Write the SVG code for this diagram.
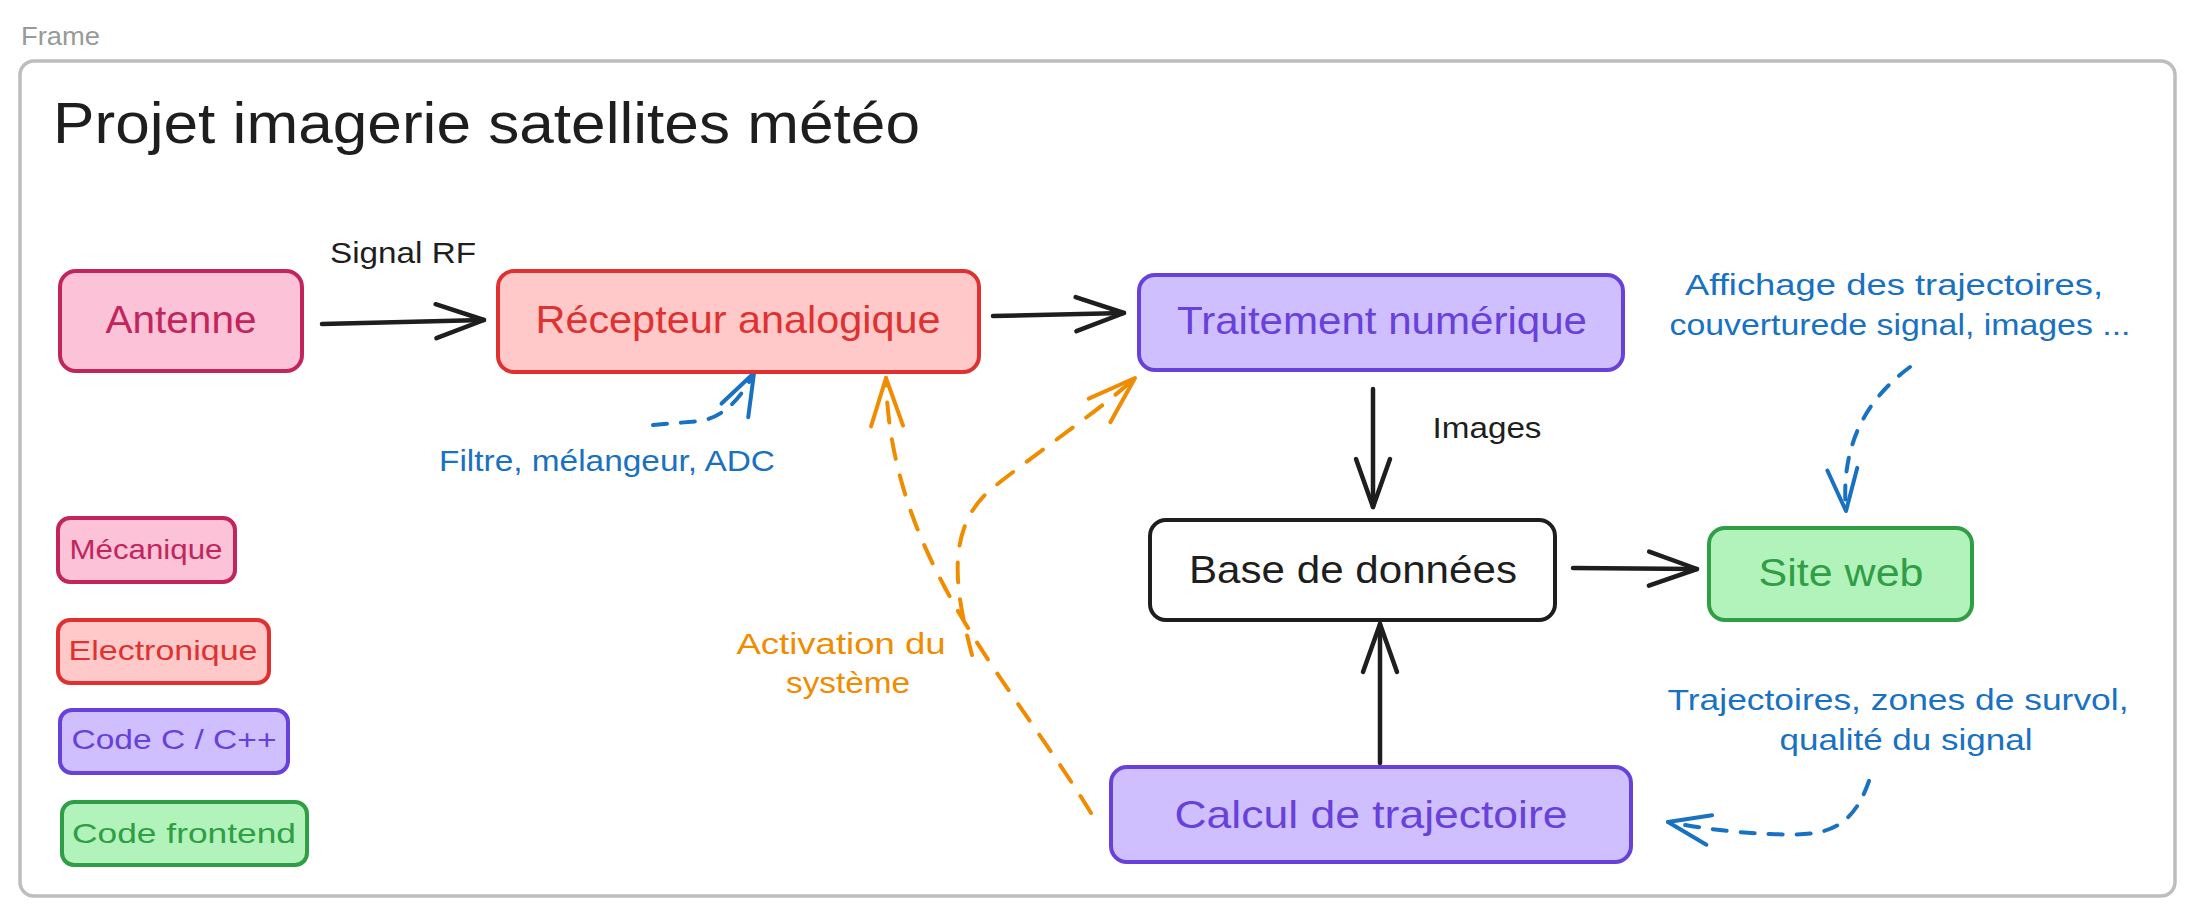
<svg xmlns="http://www.w3.org/2000/svg" width="2192" height="916" viewBox="0 0 2192 916">
<style>
text{font-family:"Liberation Sans","DejaVu Sans",sans-serif}
.node rect{stroke-width:4;rx:16;ry:16}
.leg rect{stroke-width:4;rx:12;ry:12}
.nt{font-size:39px;text-anchor:middle}
.lt{font-size:28px;text-anchor:middle}
.lab{font-size:29px;text-anchor:middle}
.pink rect{fill:#fcc2d7;stroke:#c2255c}.pink text{fill:#c2255c}
.red rect{fill:#ffc9c9;stroke:#e03131}.red text{fill:#e03131}
.violet rect{fill:#d0bfff;stroke:#6741d9}.violet text{fill:#6741d9}
.green rect{fill:#b2f2bb;stroke:#2f9e44}.green text{fill:#2f9e44}
.white rect{fill:#ffffff;stroke:#1e1e1e}.white text{fill:#1e1e1e}
.c{fill:none;stroke-linecap:round;stroke-linejoin:round}
.k{stroke:#1e1e1e;stroke-width:4.5}
.b{stroke:#1971c2;stroke-width:4;stroke-dasharray:14 14}
.o{stroke:#f08c00;stroke-width:4;stroke-dasharray:20 17}
</style>
<defs>
<marker id="ak" markerUnits="userSpaceOnUse" orient="auto" overflow="visible" refX="0" refY="0" markerWidth="1" markerHeight="1">
<path d="M-48,-17 L0,0 L-48,17" fill="none" stroke="#1e1e1e" stroke-width="4.5" stroke-linecap="round" stroke-linejoin="round"/>
</marker>
<marker id="ab" markerUnits="userSpaceOnUse" orient="auto" overflow="visible" refX="0" refY="0" markerWidth="1" markerHeight="1">
<path d="M-42,-15 L0,0 L-42,15" fill="none" stroke="#1971c2" stroke-width="4" stroke-linecap="round" stroke-linejoin="round"/>
</marker>
<marker id="ao" markerUnits="userSpaceOnUse" orient="auto" overflow="visible" refX="0" refY="0" markerWidth="1" markerHeight="1">
<path d="M-48,-16 L0,0 L-48,16" fill="none" stroke="#f08c00" stroke-width="4" stroke-linecap="round" stroke-linejoin="round"/>
</marker>
</defs>
<rect width="2192" height="916" fill="#ffffff"/>
<g id="frame">
<text x="21" y="45" font-size="26" fill="#999999" textLength="79" lengthAdjust="spacingAndGlyphs">Frame</text>
<rect x="20" y="61" width="2155" height="835" rx="14" ry="14" fill="none" stroke="#bdbdbd" stroke-width="3.5"/>
</g>
<g id="title">
<text x="53" y="143" font-size="57" fill="#1e1e1e" textLength="867" lengthAdjust="spacingAndGlyphs">Projet imagerie satellites météo</text>
</g>
<g id="connectors">
<path class="c k" d="M322,324 L484,320" marker-end="url(#ak)"/>
<path class="c k" d="M993,316 L1124,313" marker-end="url(#ak)"/>
<path class="c k" d="M1373,389 L1373,507" marker-end="url(#ak)"/>
<path class="c k" d="M1573,568 L1697,569" marker-end="url(#ak)"/>
<path class="c k" d="M1380,763 L1380,624" marker-end="url(#ak)"/>
<path class="c b" d="M653,425 L700,421 Q732,416 754,373" marker-end="url(#ab)"/>
<path class="c b" d="M1910,367 Q1838,420 1846,511" marker-end="url(#ab)"/>
<path class="c b" d="M1869,781 C1850,835 1820,836 1770,834 Q1720,832 1668,822" marker-end="url(#ab)"/>
<path class="c o" d="M1091,813 C1010,680 890,560 886,378" marker-end="url(#ao)"/>
<path class="c o" d="M972,655 C955,590 945,530 990,490 C1040,450 1100,410 1135,378" marker-end="url(#ao)"/>
</g>
<g id="labels">
<text class="lab" x="403" y="263" fill="#1e1e1e" textLength="146" lengthAdjust="spacingAndGlyphs">Signal RF</text>
<text class="lab" x="607" y="471" fill="#1971c2" textLength="336" lengthAdjust="spacingAndGlyphs">Filtre, mélangeur, ADC</text>
<text class="lab" x="841" y="654" fill="#f08c00" textLength="209" lengthAdjust="spacingAndGlyphs">Activation du</text>
<text class="lab" x="848" y="693" fill="#f08c00" textLength="124" lengthAdjust="spacingAndGlyphs">système</text>
<text class="lab" x="1487" y="438" fill="#1e1e1e" textLength="109" lengthAdjust="spacingAndGlyphs">Images</text>
<text class="lab" x="1894" y="295" fill="#1971c2" textLength="418" lengthAdjust="spacingAndGlyphs">Affichage des trajectoires,</text>
<text class="lab" x="1900" y="335" fill="#1971c2" textLength="461" lengthAdjust="spacingAndGlyphs">couverturede signal, images ...</text>
<text class="lab" x="1898" y="710" fill="#1971c2" textLength="461" lengthAdjust="spacingAndGlyphs">Trajectoires, zones de survol,</text>
<text class="lab" x="1906" y="750" fill="#1971c2" textLength="253" lengthAdjust="spacingAndGlyphs">qualité du signal</text>
</g>
<g id="antenne" class="node pink">
<rect x="60" y="271" width="242" height="100"/>
<text class="nt" x="181" y="333" textLength="151" lengthAdjust="spacingAndGlyphs">Antenne</text>
</g>
<g id="recepteur" class="node red">
<rect x="498" y="271" width="481" height="101"/>
<text class="nt" x="738" y="333" textLength="405" lengthAdjust="spacingAndGlyphs">Récepteur analogique</text>
</g>
<g id="traitement" class="node violet">
<rect x="1139" y="275" width="484" height="95"/>
<text class="nt" x="1382" y="334" textLength="410" lengthAdjust="spacingAndGlyphs">Traitement numérique</text>
</g>
<g id="base" class="node white">
<rect x="1150" y="520" width="405" height="100"/>
<text class="nt" x="1353" y="583" textLength="328" lengthAdjust="spacingAndGlyphs">Base de données</text>
</g>
<g id="siteweb" class="node green">
<rect x="1709" y="528" width="263" height="92"/>
<text class="nt" x="1841" y="586" textLength="165" lengthAdjust="spacingAndGlyphs">Site web</text>
</g>
<g id="calcul" class="node violet">
<rect x="1111" y="767" width="520" height="95"/>
<text class="nt" x="1371" y="828" textLength="393" lengthAdjust="spacingAndGlyphs">Calcul de trajectoire</text>
</g>
<g id="leg-mecanique" class="leg pink">
<rect x="58" y="518" width="177" height="64"/>
<text class="lt" x="146" y="559" textLength="153" lengthAdjust="spacingAndGlyphs">Mécanique</text>
</g>
<g id="leg-electronique" class="leg red">
<rect x="58" y="620" width="211" height="63"/>
<text class="lt" x="163" y="660" textLength="189" lengthAdjust="spacingAndGlyphs">Electronique</text>
</g>
<g id="leg-codec" class="leg violet">
<rect x="60" y="710" width="228" height="63"/>
<text class="lt" x="174" y="749" textLength="205" lengthAdjust="spacingAndGlyphs">Code C / C++</text>
</g>
<g id="leg-frontend" class="leg green">
<rect x="62" y="802" width="245" height="63"/>
<text class="lt" x="184" y="843" textLength="224" lengthAdjust="spacingAndGlyphs">Code frontend</text>
</g>
</svg>
